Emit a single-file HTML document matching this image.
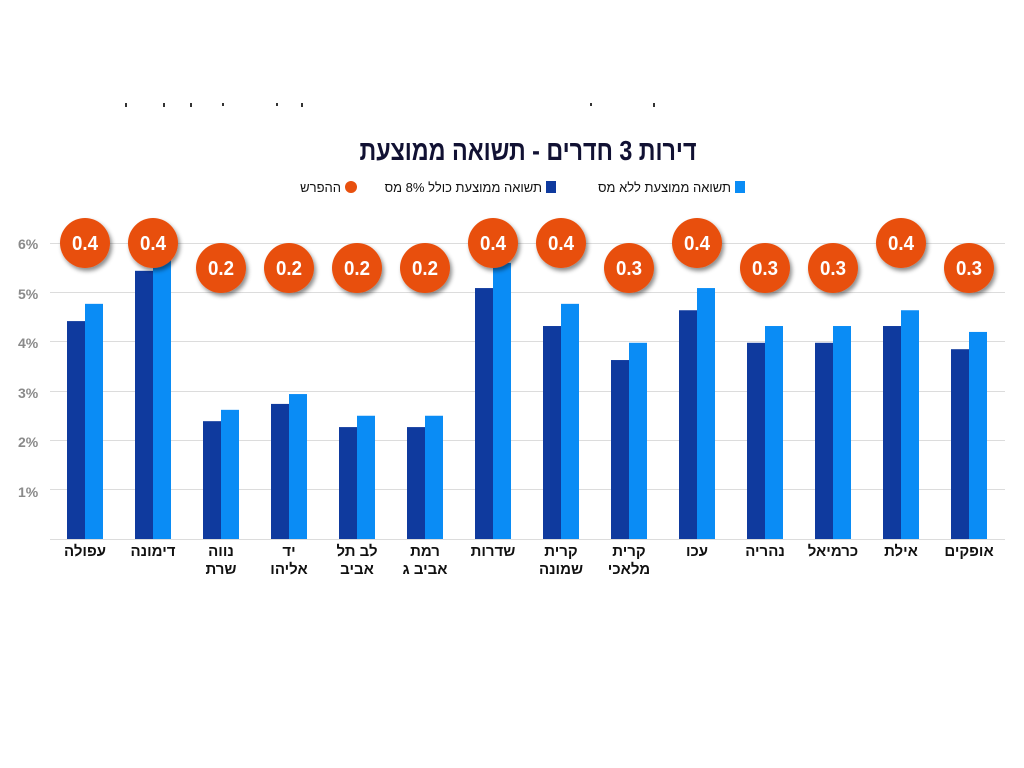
<!DOCTYPE html>
<html><head><meta charset="utf-8"><style>
html,body{margin:0;padding:0;background:#fff;}
svg{display:block;}
</style></head><body>
<svg width="1024" height="768" viewBox="0 0 1024 768" xmlns="http://www.w3.org/2000/svg" font-family="'Liberation Sans','Noto Sans CJK SC',sans-serif">
<defs><filter id="sh" x="-30%" y="-30%" width="170%" height="170%"><feDropShadow dx="2" dy="3" stdDeviation="2" flood-color="#000" flood-opacity="0.45"/></filter></defs>
<rect width="1024" height="768" fill="#fff"/>
<g fill="#333"><rect x="125" y="103" width="2" height="4"/><rect x="163" y="103" width="2" height="4"/><rect x="190" y="103" width="2" height="4"/><rect x="222" y="103" width="2" height="3"/><rect x="276" y="103" width="2" height="3"/><rect x="301" y="103" width="2" height="4"/><rect x="590" y="103" width="2" height="3"/><rect x="653" y="103" width="2" height="4"/></g>
<text x="528" y="160" text-anchor="middle" font-size="28" font-weight="bold" fill="#111133" direction="rtl" textLength="337" lengthAdjust="spacingAndGlyphs">דירות 3 חדרים - תשואה ממוצעת</text>
<g font-size="13" fill="#111" direction="rtl">
<rect x="735" y="181" width="10" height="12" fill="#0a8cf5"/>
<text x="731" y="192" text-anchor="start">תשואה ממוצעת ללא מס</text>
<rect x="546" y="181" width="10" height="12" fill="#0f3a9e"/>
<text x="542" y="192" text-anchor="start">תשואה ממוצעת כולל 8% מס</text>
<circle cx="351" cy="187" r="6" fill="#e8500e"/>
<text x="341" y="192" text-anchor="start">ההפרש</text>
</g>
<g stroke="#dcdcdc" stroke-width="1">
<line x1="50" x2="1005" y1="243.5" y2="243.5"/><line x1="50" x2="1005" y1="292.5" y2="292.5"/><line x1="50" x2="1005" y1="341.5" y2="341.5"/><line x1="50" x2="1005" y1="391.5" y2="391.5"/><line x1="50" x2="1005" y1="440.5" y2="440.5"/><line x1="50" x2="1005" y1="489.5" y2="489.5"/><line x1="50" x2="1005" y1="539.5" y2="539.5"/>
</g>
<g font-size="14" font-weight="bold" fill="#8a8a8a">
<text x="18" y="249">6%</text><text x="18" y="299">5%</text><text x="18" y="348">4%</text><text x="18" y="398">3%</text><text x="18" y="447">2%</text><text x="18" y="497">1%</text>
</g>
<g id="bars"></g>
<g id="circ"></g>
<g id="labs" font-size="15" font-weight="bold" fill="#111" text-anchor="middle"></g>
<script>
var d=[[4.42,4.77,"0.4",["עפולה"]],[5.44,5.7,"0.4",["דימונה"]],[2.39,2.62,"0.2",["נווה","שרת"]],[2.74,2.94,"0.2",["יד","אליהו"]],[2.27,2.5,"0.2",["לב תל","אביב"]],[2.27,2.5,"0.2",["רמת","אביב ג"]],[5.09,5.6,"0.4",["שדרות"]],[4.32,4.77,"0.4",["קרית","שמונה"]],[3.63,3.98,"0.3",["קרית","מלאכי"]],[4.64,5.09,"0.4",["עכו"]],[3.98,4.32,"0.3",["נהריה"]],[3.98,4.32,"0.3",["כרמיאל"]],[4.32,4.64,"0.4",["אילת"]],[3.85,4.2,"0.3",["אופקים"]]];
var NS="http://www.w3.org/2000/svg";
function el(p,t,a,tx){var e=document.createElementNS(NS,t);for(var k in a)e.setAttribute(k,a[k]);if(tx)e.textContent=tx;p.appendChild(e);return e;}
var B=document.getElementById("bars"),C=document.getElementById("circ"),L=document.getElementById("labs");
d.forEach(function(r,i){var c=85+68*i;var y1=539-49.3*r[0],y2=539-49.3*r[1];
el(B,"rect",{x:c-18,y:y1,width:18,height:539-y1,fill:"#0f3a9e"});
el(B,"rect",{x:c,y:y2,width:18,height:539-y2,fill:"#0a8cf5"});
var cy=r[2]=="0.4"?243:268;
el(C,"circle",{cx:c,cy:cy,r:25,fill:"#e8500e",filter:"url(#sh)"});
el(C,"text",{x:c,y:cy+7,"text-anchor":"middle","font-size":"20","font-weight":"bold",fill:"#fff",textLength:"26",lengthAdjust:"spacingAndGlyphs"},r[2]);
r[3].forEach(function(s,j){el(L,"text",{x:c,y:556+j*18,direction:"rtl"},s);});
});
</script>
</svg>
</body></html>
